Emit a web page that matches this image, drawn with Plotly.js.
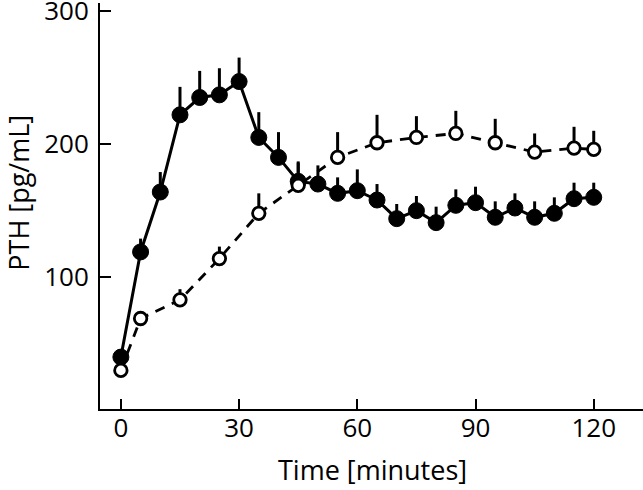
<!DOCTYPE html>
<html>
<head>
<meta charset="utf-8">
<script src="https://cdn.plot.ly/plotly-3.0.1.min.js"></script>
<style>html,body{margin:0;padding:0;background:#fff;}#chart{width:643px;height:490px;}</style>
</head>
<body>
<div id="chart"></div>
<script>
// Filled circles (solid line)
const timesFilled = [0,5,10,15,20,25,30,35,40,45,50,55,60,65,70,75,80,85,90,95,100,105,110,115,120];
const pthFilled   = [40,119,164,222,235,237,247,205,190,172,170,163,165,158,144,150,141,154,156,145,152,145,148,159,160];
const errFilled   = [0,10,15,21,20,20,18,19,19,14,14,12,16,12,11,11,12,12,12,12,11,12,12,12,11];

// Open circles (dashed line)
const timesOpen = [0,5,15,25,35,45,55,65,75,85,95,105,115,120];
const pthOpen   = [30,69,83,114,148,169,190,201,205,208,201,194,197,196];
const errOpen   = [0,5,8,9,15,18,19,21,16,17,18,14,16,14];

const xTicks = [0,30,60,90,120];
const yTicks = [100,200,300];

const xTitle = 'Time [minutes]';
const yTitle = 'PTH [pg/mL]';

const zeros = a => a.map(() => 0);

const traces = [
  {
    x: timesFilled, y: pthFilled, type: 'scatter', mode: 'lines+markers',
    line: {color: '#000', width: 3},
    marker: {color: '#000', size: 16, line: {color: '#000', width: 1}},
    error_y: {type: 'data', symmetric: false, array: errFilled, arrayminus: zeros(errFilled),
              color: '#000', thickness: 3, width: 0},
    showlegend: false, hoverinfo: 'skip'
  },
  {
    x: timesOpen, y: pthOpen, type: 'scatter', mode: 'lines+markers',
    line: {color: '#000', width: 2.8, dash: '10px,8px'},
    marker: {color: '#fff', size: 12.5, line: {color: '#000', width: 2.8}},
    error_y: {type: 'data', symmetric: false, array: errOpen, arrayminus: zeros(errOpen),
              color: '#000', thickness: 3, width: 0},
    showlegend: false, hoverinfo: 'skip'
  }
];

const fam = '"Open Sans", sans-serif';
const titleFont = {family: fam, size: 27, color: '#000'};

const layout = {
  width: 643, height: 490,
  margin: {l: 100, r: 0, t: 3, b: 81},
  paper_bgcolor: '#fff', plot_bgcolor: '#fff',
  font: {family: fam, size: 26, color: '#000'},
  xaxis: {
    range: [-5.3, 132.5], tickvals: xTicks, ticktext: xTicks.map(String),
    showline: true, linecolor: '#000', linewidth: 2,
    ticks: 'inside', ticklen: 10, tickwidth: 2, tickcolor: '#000',
    showgrid: false, zeroline: false,
    ticklabelstandoff: -5,
    tickfont: {family: fam, size: 26, color: '#000'}
  },
  yaxis: {
    range: [1, 306], tickvals: yTicks, ticktext: yTicks.map(String),
    showline: true, linecolor: '#000', linewidth: 2,
    ticks: 'inside', ticklen: 11, tickwidth: 2, tickcolor: '#000',
    showgrid: false, zeroline: false,
    ticklabeloverflow: 'allow',
    ticklabelstandoff: 4,
    tickfont: {family: fam, size: 26, color: '#000'}
  },
  annotations: [
    {text: xTitle, xref: 'paper', yref: 'paper', x: 0.501, y: -0.149,
     xanchor: 'center', yanchor: 'middle', showarrow: false, font: titleFont},
    {text: yTitle, xref: 'paper', yref: 'paper', x: -0.149, y: 0.533, textangle: -90,
     xanchor: 'center', yanchor: 'middle', showarrow: false, font: titleFont}
  ]
};

Plotly.newPlot('chart', traces, layout, {displayModeBar: false, staticPlot: true});
</script>
</body>
</html>
